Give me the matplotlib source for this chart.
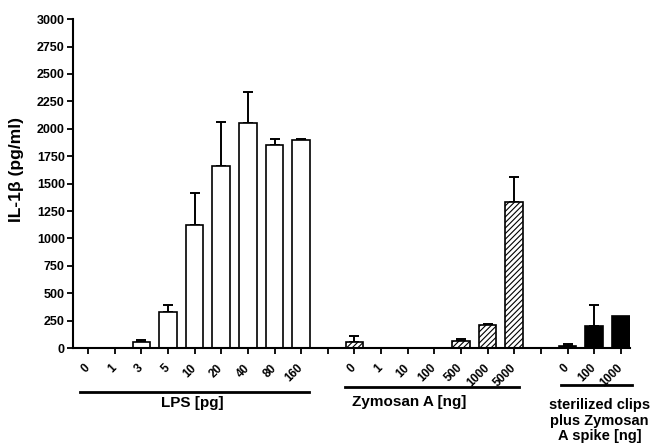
import matplotlib
matplotlib.use("Agg")
import matplotlib.pyplot as plt
import matplotlib.transforms as mtransforms
import numpy as np

plt.rcParams['font.family'] = ['Liberation Sans', 'DejaVu Sans']
plt.rcParams['font.weight'] = 'bold'
plt.rcParams['hatch.color'] = '#555555'
plt.rcParams['hatch.linewidth'] = 0.8

# LPS [pg]
lps_labels = ["0", "1", "3", "5", "10", "20", "40", "80", "160"]
lps_mean = [0, 0, 52, 328, 1124, 1662, 2055, 1848, 1897]
lps_err = [0, 0, 20, 64, 292, 399, 279, 58, 8]

# Zymosan A [ng]
zym_labels = ["0", "1", "10", "100", "500", "1000", "5000"]
zym_mean = [55, 0, 0, 0, 61, 213, 1334]
zym_err = [52, 0, 0, 0, 24, 6, 228]

# sterilized clips plus Zymosan A spike [ng]
clip_labels = ["0", "100", "1000"]
clip_mean = [21, 200, 289]
clip_err = [18, 192, 0]

lps_x = np.arange(len(lps_labels))
zym_x = np.arange(len(zym_labels)) + len(lps_labels) + 1
clip_x = np.arange(len(clip_labels)) + zym_x[-1] + 2

fig = plt.figure(figsize=(6.53, 4.44), dpi=100)
ax = fig.add_axes([0.112, 0.216, 0.853, 0.741])

w = 0.66
ax.bar(lps_x, lps_mean, w, color='white', edgecolor='black', linewidth=1.2, zorder=2)
ax.bar(zym_x, zym_mean, w, color='white', edgecolor='black', linewidth=1.2,
       hatch='//////', zorder=2)
ax.bar(clip_x, clip_mean, w, color='black', edgecolor='black', linewidth=1.2, zorder=2)

for xs, m, e in [(lps_x, lps_mean, lps_err), (zym_x, zym_mean, zym_err), (clip_x, clip_mean, clip_err)]:
    xs = np.asarray(xs); m = np.asarray(m); e = np.asarray(e)
    k = e > 0
    ax.errorbar(xs[k], m[k], yerr=[np.zeros(k.sum()), e[k]], fmt='none',
                ecolor='black', elinewidth=1.4, capsize=3.3, capthick=1.4, zorder=1)

ticks = np.arange(clip_x[-1] + 1)
labels = [""] * len(ticks)
for xs, lab in [(lps_x, lps_labels), (zym_x, zym_labels), (clip_x, clip_labels)]:
    for x, l in zip(xs, lab):
        labels[x] = l
ax.set_xticks(ticks)
ax.set_xticklabels(labels, rotation=45, ha='right', va='center',
                   rotation_mode='anchor', fontsize=8.5, fontweight='bold')
ax.set_xlim(-0.56, clip_x[-1] + 0.35)

ax.set_ylim(0, 3000)
ax.set_yticks(np.arange(0, 3001, 250))
ax.set_yticklabels([str(v) for v in range(0, 3001, 250)], fontsize=9, fontweight='bold')
ax.set_ylabel("IL-1β (pg/ml)", fontsize=12.5, fontweight='bold')
ax.yaxis.set_label_coords(-0.088, 0.544)

for s in ['top', 'right']:
    ax.spines[s].set_visible(False)
for s in ['left', 'bottom']:
    ax.spines[s].set_linewidth(1.5)
ax.tick_params(direction='out', length=4, width=1.3, pad=2)
ax.tick_params(axis='x', pad=9)

trans = mtransforms.blended_transform_factory(ax.transData, ax.transAxes)
groups = [(-0.3, 8.3, -0.133, "LPS [pg]", 3.9, -0.146, 11),
          (9.65, 16.18, -0.118, "Zymosan A [ng]", 12.05, -0.143, 11),
          (17.76, 20.43, -0.112, "sterilized clips\nplus Zymosan\nA spike [ng]", 19.2, -0.152, 10.5)]
for x0, x1, yl, txt, xt, yt, fs in groups:
    ax.plot([x0, x1], [yl, yl], color='black', linewidth=2, transform=trans, clip_on=False)
    ax.text(xt, yt, txt, transform=trans, ha='center', va='top',
            fontsize=fs, fontweight='bold', linespacing=1.15)

fig.savefig("out.png", dpi=100)
